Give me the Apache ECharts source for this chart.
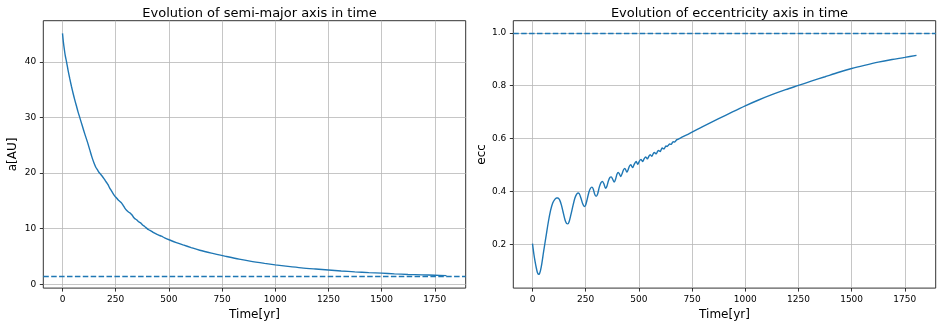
<!DOCTYPE html>
<html><head><meta charset="utf-8">
<script src="https://cdn.jsdelivr.net/npm/echarts@6/dist/echarts.min.js"></script>
<style>html,body{margin:0;padding:0;background:#fff}#c{width:937px;height:326px}</style>
</head><body><div id="c"></div>
<script>
const xTicks = [0, 250, 500, 750, 1000, 1250, 1500, 1750];
const aTicks = [0, 10, 20, 30, 40];
const eTicks = [0.2, 0.4, 0.6, 0.8, 1.0];
const aLimit = 1.5;
const eLimit = 1.0;

const aTime = [0,4,8,13,19,26,34,42,50,58,66,73,81,93,105,117,128,138,149,157,164,172,181,191,200,207,214,222,230,238,245,252,261,270,278,285,293,301,310,318,326,333,340,348,356,364,371,378,386,395,405,415,426,440,452,465,480,504,535,567,605,645,700,771,830,881,950,1000,1060,1123,1190,1250,1310,1374,1440,1500,1560,1624,1690,1750,1805];
const aValues = [45.1,43.6,42.4,41.1,40.0,38.5,37.0,35.6,34.3,33.1,32.0,31.0,30.0,28.5,27.0,25.6,24.2,22.9,21.7,21.0,20.6,20.1,19.7,19.2,18.7,18.3,17.9,17.3,16.8,16.3,15.9,15.6,15.2,14.9,14.6,14.2,13.7,13.3,13.0,12.8,12.5,12.1,11.8,11.6,11.3,11.1,10.9,10.6,10.4,10.1,9.8,9.6,9.35,9.05,8.85,8.65,8.35,7.96,7.5,7.08,6.6,6.12,5.6,5.0,4.52,4.16,3.76,3.5,3.22,2.96,2.75,2.58,2.4,2.24,2.1,2.0,1.88,1.77,1.7,1.63,1.56];

const eTime = [0,6,12,18,23,28,33,38,44,52,63,75,85,95,105,113,120,128,136,145,153,160,166,172,180,190,199,207,214,220,228,236,243,249,257,265,272,279,285,292,299,306,314,322,329,336,343,349,357,364,370,377,384,390,397,403,409,415,421,428,434,439,444,450,456,462,466,471,478,487,491,495,502,510,514,518,525,532,536,540,547,553,557,561,567,573,577,581,587,592,596,600,605,610,614,618,623,628,632,635,640,645,648,652,657,662,665,669,674,679,684,690,700,725,750,800,875,940,1000,1060,1125,1190,1250,1310,1375,1440,1500,1560,1625,1690,1750,1805];
const eValues = [0.202,0.165,0.135,0.11,0.093,0.086,0.089,0.102,0.128,0.171,0.227,0.287,0.328,0.356,0.370,0.375,0.375,0.367,0.348,0.318,0.292,0.279,0.277,0.285,0.31,0.345,0.374,0.389,0.394,0.391,0.374,0.353,0.343,0.347,0.37,0.397,0.411,0.416,0.41,0.39,0.381,0.39,0.416,0.433,0.438,0.428,0.412,0.418,0.44,0.453,0.455,0.446,0.435,0.445,0.465,0.472,0.465,0.456,0.467,0.482,0.487,0.48,0.473,0.483,0.496,0.501,0.496,0.490,0.502,0.513,0.508,0.503,0.514,0.521,0.517,0.513,0.524,0.530,0.527,0.523,0.533,0.539,0.536,0.533,0.542,0.547,0.545,0.542,0.550,0.555,0.553,0.551,0.558,0.564,0.562,0.560,0.567,0.572,0.570,0.569,0.576,0.580,0.579,0.578,0.584,0.588,0.587,0.587,0.592,0.596,0.597,0.600,0.604,0.614,0.624,0.645,0.675,0.701,0.724,0.745,0.766,0.785,0.801,0.817,0.834,0.851,0.865,0.877,0.889,0.899,0.907,0.915];

const zip = (xs, ys) => xs.map((x, i) => [x, ys[i]]);
const FONT = 'DejaVu Sans';
const BLUE = '#1f77b4';

function xAx(gi) {
  return {
    type: 'value', gridIndex: gi, min: -90.25, max: 1895.25,
    name: 'Time[yr]', nameLocation: 'middle', nameGap: 17,
    nameTextStyle: { fontSize: 12, color: '#000', fontFamily: FONT },
    axisLine: { show: false, onZero: false },
    axisTick: { show: true, inside: false, length: 3.5, customValues: xTicks, lineStyle: { color: '#000', width: 0.8 } },
    axisLabel: { customValues: xTicks, margin: 7, fontSize: 9, color: '#000', fontFamily: FONT, formatter: v => String(v) },
    splitLine: { show: true, lineStyle: { color: '#b8b8b8', width: 0.8 } }
  };
}
function yAx(gi, min, max, ticks, name, fmt) {
  return {
    type: 'value', gridIndex: gi, min: min, max: max,
    name: name, nameLocation: 'middle', nameGap: 24, nameRotate: 90,
    nameTextStyle: { fontSize: 12, color: '#000', fontFamily: FONT },
    axisLine: { show: false, onZero: false },
    axisTick: { show: true, inside: false, length: 3.5, customValues: ticks, lineStyle: { color: '#000', width: 0.8 } },
    axisLabel: { customValues: ticks, margin: 7, fontSize: 9, color: '#000', fontFamily: FONT, formatter: fmt },
    splitLine: { show: true, lineStyle: { color: '#b8b8b8', width: 0.8 } }
  };
}
function limitLine(v) {
  return { symbol: 'none', silent: true, label: { show: false },
    lineStyle: { type: [5.5, 2.4], color: BLUE, width: 1.4 }, data: [{ yAxis: v }] };
}

const chart = echarts.init(document.getElementById('c'), null, { renderer: 'canvas' });
chart.setOption({
  animation: false,
  backgroundColor: '#fff',
  title: [
    { text: 'Evolution of semi-major axis in time', left: 254.5, top: 2, textAlign: 'center',
      textStyle: { fontSize: 13, fontWeight: 'normal', color: '#000', fontFamily: FONT } },
    { text: 'Evolution of eccentricity axis in time', left: 724.5, top: 2, textAlign: 'center',
      textStyle: { fontSize: 13, fontWeight: 'normal', color: '#000', fontFamily: FONT } }
  ],
  grid: [
    { left: 43.3, top: 20.7, width: 422.4, height: 270.6, show: true, borderColor: '#333', borderWidth: 1, backgroundColor: 'transparent' },
    { left: 513.3, top: 20.7, width: 422.4, height: 270.6, show: true, borderColor: '#333', borderWidth: 1, backgroundColor: 'transparent' }
  ],
  xAxis: [xAx(0), xAx(1)],
  yAxis: [
    yAx(0, -0.685, 47.385, aTicks, 'a[AU]', v => String(v)),
    yAx(1, 0.034, 1.046, eTicks, 'ecc', v => v.toFixed(1))
  ],
  series: [
    { type: 'line', xAxisIndex: 0, yAxisIndex: 0, data: zip(aTime, aValues), showSymbol: false, smooth: 0.3,
      lineStyle: { color: BLUE, width: 1.4 }, itemStyle: { color: BLUE }, markLine: limitLine(aLimit) },
    { type: 'line', xAxisIndex: 1, yAxisIndex: 1, data: zip(eTime, eValues), showSymbol: false, smooth: 0.3,
      lineStyle: { color: BLUE, width: 1.4 }, itemStyle: { color: BLUE }, markLine: limitLine(eLimit) }
  ]
});
</script></body></html>
